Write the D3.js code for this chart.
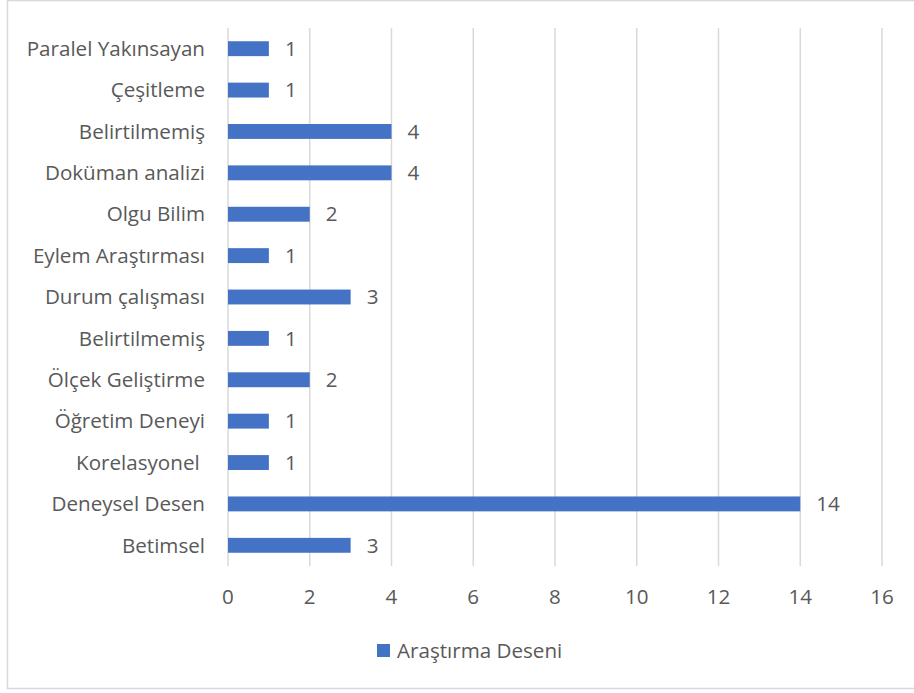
<!DOCTYPE html>
<html>
<head>
<meta charset="utf-8">
<script src="https://cdn.jsdelivr.net/npm/d3@7"></script>
<style>
  html, body { margin: 0; padding: 0; background: #fff; }
  svg { display: block; }
  text { font-family: "Open Sans", Lato, sans-serif; fill: #595959; white-space: pre; }
</style>
</head>
<body>
<svg id="chart" width="914" height="693"></svg>
<script>
// Research designs, listed bottom to top as they appear on the axis
const categories = [
  "Betimsel", "Deneysel Desen", "Korelasyonel ", "Öğretim Deneyi",
  "Ölçek Geliştirme", "Belirtilmemiş", "Durum çalışması", "Eylem Araştırması",
  "Olgu Bilim", "Doküman analizi", "Belirtilmemiş", "Çeşitleme", "Paralel Yakınsayan"
];
const values = [3, 14, 1, 1, 2, 1, 3, 1, 2, 4, 4, 1, 1];
const xTicks = [0, 2, 4, 6, 8, 10, 12, 14, 16];
const seriesName = "Araştırma Deseni";

const svg = d3.select("#chart");
const barColor = "#4472C4";
const fontSize = 20.6;

// chart frame
svg.append("rect")
  .attr("x", 7.5).attr("y", 0.5)
  .attr("width", 920).attr("height", 688)
  .attr("fill", "none").attr("stroke", "#d9d9d9").attr("stroke-width", 1.5);

const plot = { left: 228, right: 882, top: 28, bottom: 566 };

const x = d3.scaleLinear().domain([0, 16]).range([plot.left, plot.right]);
// index-based band so repeated category names keep their own rows
const y = d3.scaleBand()
  .domain(d3.range(categories.length).reverse())
  .range([plot.top, plot.bottom])
  .paddingInner(0.64).paddingOuter(0.32);

// vertical gridlines
svg.append("g").selectAll("line").data(xTicks).join("line")
  .attr("x1", d => x(d)).attr("x2", d => x(d))
  .attr("y1", plot.top).attr("y2", plot.bottom)
  .attr("stroke", "#d9d9d9").attr("stroke-width", 1.5);

// x tick labels
svg.append("g").selectAll("text").data(xTicks).join("text")
  .attr("x", d => x(d)).attr("y", 604)
  .attr("text-anchor", "middle")
  .attr("font-size", fontSize)
  .text(d => d);

const rows = categories.map((c, i) => ({ c, v: values[i], i }));

// bars
svg.append("g").selectAll("rect").data(rows).join("rect")
  .attr("x", x(0))
  .attr("y", d => y(d.i))
  .attr("width", d => x(d.v) - x(0))
  .attr("height", y.bandwidth())
  .attr("fill", barColor);

// category labels (trailing spaces kept)
svg.append("g").selectAll("text").data(rows).join("text")
  .attr("xml:space", "preserve")
  .attr("x", plot.left - 23)
  .attr("y", d => y(d.i) + y.bandwidth() / 2)
  .attr("dy", "0.35em")
  .attr("text-anchor", "end")
  .attr("font-size", fontSize)
  .text(d => d.c);

// value labels
svg.append("g").selectAll("text").data(rows).join("text")
  .attr("x", d => x(d.v) + 16)
  .attr("y", d => y(d.i) + y.bandwidth() / 2)
  .attr("dy", "0.35em")
  .attr("font-size", fontSize)
  .text(d => d.v);

// legend
const legend = svg.append("g").attr("transform", "translate(377,644)");
legend.append("rect").attr("width", 13).attr("height", 13).attr("fill", barColor);
legend.append("text").attr("x", 20).attr("y", 6.5).attr("dy", "0.35em")
  .attr("font-size", fontSize).text(seriesName);
</script>
</body>
</html>
